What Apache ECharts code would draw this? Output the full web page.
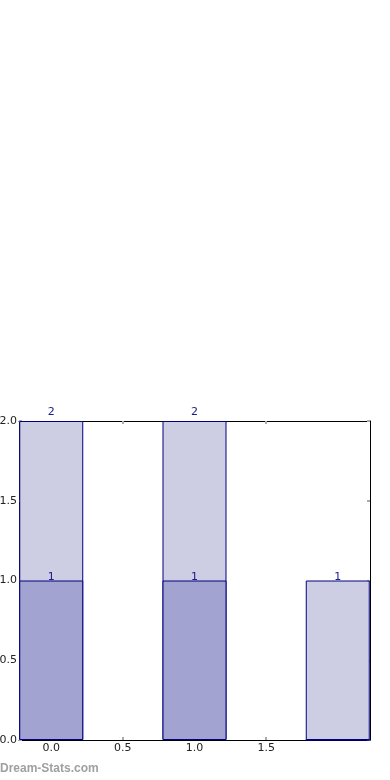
<!DOCTYPE html>
<html>
<head>
<meta charset="utf-8">
<script src="https://cdn.jsdelivr.net/npm/echarts@6/dist/echarts.min.js"></script>
<style>html,body{margin:0;padding:0;background:#fff}#c{width:390px;height:780px}</style>
</head>
<body>
<div id="c"></div>
<script>
var binCenters = [0, 1, 2];
var lowerCounts = [1, 1, 0];
var upperCounts = [1, 1, 1];
var xTicks = [0, 0.5, 1, 1.5];
var yTicks = [0, 0.5, 1, 1.5, 2];

var totals = lowerCounts.map(function (v, i) { return v + upperCounts[i]; });
var chart = echarts.init(document.getElementById('c'));
var font = 'DejaVu Sans';
var frame = { show: true, onZero: false, lineStyle: { color: '#000', width: 1 } };
var tick = { show: true, inside: true, length: 3, lineStyle: { color: '#aaa', width: 2 } };

function xAx(pos, showLabel) {
  return {
    type: 'value', position: pos, min: -0.225, max: 2.225,
    axisLine: frame,
    axisTick: Object.assign({ customValues: xTicks }, tick),
    axisLabel: { show: showLabel, customValues: xTicks, color: '#222', fontFamily: font, fontSize: 11, margin: 3,
      formatter: function (v) { return v.toFixed(1); } },
    splitLine: { show: false }
  };
}
function yAx(pos, showLabel) {
  return {
    type: 'value', position: pos, min: 0, max: 2, interval: 0.5,
    axisLine: frame,
    axisTick: tick,
    axisLabel: { show: showLabel, color: '#222', fontFamily: font, fontSize: 11, margin: 2,
      formatter: function (v) { return v.toFixed(1); } },
    splitLine: { show: false }
  };
}

// totals drawn first (light), lower part drawn on top (dark)
var totalData = binCenters.map(function (x, i) {
  return { value: [x, totals[i]], label: { distance: totals[i] > 1 ? 3 : -2 } };
});
var lowerData = binCenters.map(function (x, i) {
  return { value: [x, lowerCounts[i]], label: { show: lowerCounts[i] > 0, distance: -2 } };
});

chart.setOption({
  animation: false,
  grid: { left: 19, right: 20, top: 421, bottom: 40, outerBoundsMode: 'none', containLabel: false },
  xAxis: [xAx('bottom', true), xAx('top', false)],
  yAxis: [yAx('left', true), yAx('right', false)],
  series: [
    {
      type: 'bar', barWidth: 64, barGap: '-100%', data: totalData, z: 2,
      itemStyle: { color: '#cdcde4', borderColor: '#000080', borderWidth: 1 },
      label: { show: true, position: 'top', color: '#1a1a8a', fontFamily: font, fontSize: 11 ,
        formatter: function (p) { return totals[p.dataIndex]; } }
    },
    {
      type: 'bar', barWidth: 64, barGap: '-100%', data: lowerData, z: 3,
      itemStyle: { color: '#a3a3d1', borderColor: '#000080', borderWidth: 1 },
      label: { show: true, position: 'top', color: '#1a1a8a', fontFamily: font, fontSize: 11,
        formatter: function (p) { return lowerCounts[p.dataIndex]; } }
    }
  ],
  graphic: [{
    type: 'text', left: 0, top: 763,
    style: { text: 'Dream-Stats.com', fill: '#a0a0a0', font: 'bold 12px "Liberation Sans"' }
  }]
});
</script>
</body>
</html>
